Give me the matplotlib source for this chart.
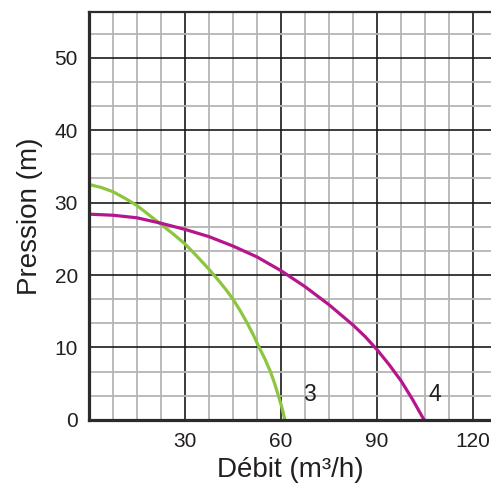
import numpy as np
import matplotlib
matplotlib.use("Agg")
import matplotlib.pyplot as plt
from matplotlib.ticker import MultipleLocator

plt.rcParams["font.family"] = ["Liberation Sans", "DejaVu Sans"]

# curve 3 (green)
debit_3 = [0, 3.75, 7.5, 11.25, 15, 18.75, 22.5, 26.25, 30, 33.75, 37.5, 40.4, 42.7, 45,
           47.3, 49.5, 51.4, 53.2, 55.0, 56.7, 58.0, 59.2, 60.3, 61.2]
pression_3 = [32.5, 32.1, 31.5, 30.6, 29.6, 28.3, 27.0, 25.7, 24.3, 22.6, 20.8, 19.3, 18.05, 16.67,
              15.05, 13.33, 11.7, 10.0, 8.4, 6.67, 5.05, 3.33, 1.7, 0]

# curve 4 (magenta)
debit_4 = [0, 7.5, 15, 22.5, 30, 37.5, 45, 52.5, 60, 67.5, 75, 82.5, 86.3, 90, 93.75, 97.5,
           101, 104.7]
pression_4 = [28.4, 28.25, 27.9, 27.15, 26.3, 25.3, 24.0, 22.5, 20.6, 18.4, 15.9, 13.1, 11.5, 9.7,
              7.65, 5.4, 2.9, 0]

curve_labels = ["3", "4"]
label_pos = [(69, 3.45), (108, 3.45)]

xticks = [30, 60, 90, 120]
yticks = [0, 10, 20, 30, 40, 50]

txt = "#231f20"

fig = plt.figure(figsize=(4.91, 4.90), dpi=100)
ax = fig.add_axes([0.181, 0.143, 0.819, 0.8325])

ax.set_xlim(0, 125.6)
ax.set_ylim(0, 56.3)

ax.xaxis.set_major_locator(MultipleLocator(30))
ax.xaxis.set_minor_locator(MultipleLocator(7.5))
ax.yaxis.set_major_locator(MultipleLocator(10))
ax.yaxis.set_minor_locator(MultipleLocator(10 / 3))
ax.grid(which="minor", color="#b5b5b5", linewidth=1.3)
ax.grid(which="major", color="#1a1a1a", linewidth=1.2)
ax.set_axisbelow(True)

ax.set_xticks(xticks)
ax.set_yticks(yticks)
ax.tick_params(which="both", length=0, labelsize=15, labelcolor=txt)
ax.tick_params(axis="x", pad=9)
ax.tick_params(axis="y", pad=8)

ax.plot(debit_3, pression_3, color="#8cc63f", linewidth=2.3, solid_capstyle="butt",
        solid_joinstyle="round", clip_on=False)
ax.plot(debit_4, pression_4, color="#b5168c", linewidth=2.3, solid_capstyle="butt",
        solid_joinstyle="round", clip_on=False)

for lab, (x, y) in zip(curve_labels, label_pos):
    ax.text(x, y, lab, fontsize=16.5, color=txt, ha="center", va="center")

ax.spines["right"].set_visible(False)
for s in ["left", "bottom"]:
    ax.spines[s].set_linewidth(2.3)
    ax.spines[s].set_color("#2b2b2b")
ax.spines["top"].set_linewidth(1.6)
ax.spines["top"].set_color("#2b2b2b")

ax.set_xlabel("Débit (m³/h)", fontsize=20, color=txt, labelpad=4)
ax.set_ylabel("Pression (m)", fontsize=20, color=txt, labelpad=8)

fig.savefig("out.png", dpi=100)
